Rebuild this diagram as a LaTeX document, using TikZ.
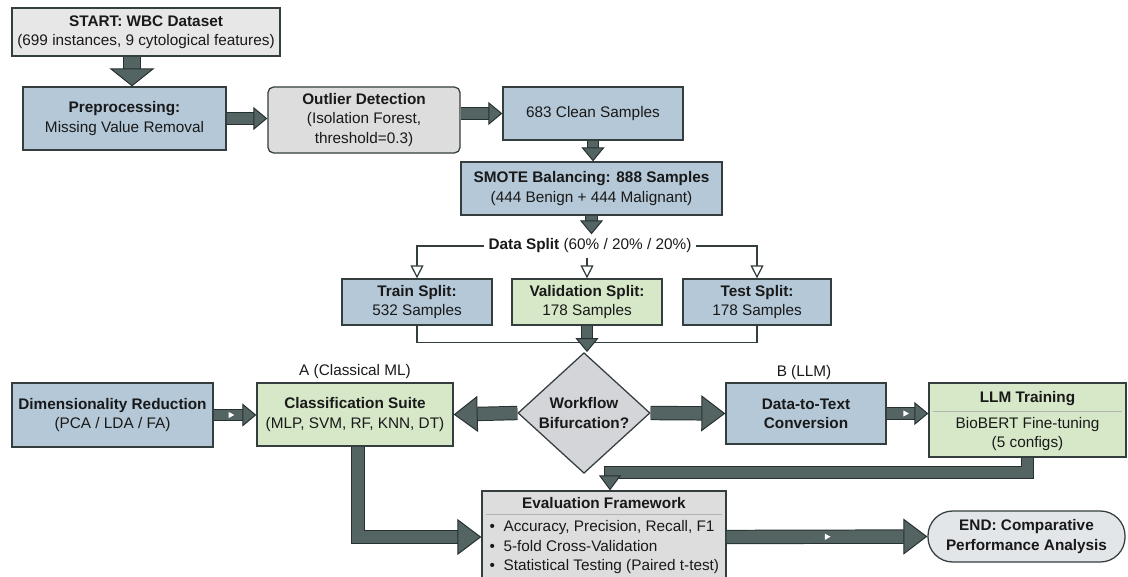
\documentclass[tikz,border=0pt]{standalone}
\usepackage{fontspec}
\setmainfont{Liberation Sans}
\usepackage{tikz}
\usetikzlibrary{arrows.meta, shapes.geometric, calc, decorations.markings}

\definecolor{boxblue}{RGB}{180,200,215}
\definecolor{boxgreen}{RGB}{214,232,200}
\definecolor{boxgray}{RGB}{221,221,221}
\definecolor{boxlight}{RGB}{231,231,231}
\definecolor{boxdiamond}{RGB}{211,213,216}
\definecolor{boxend}{RGB}{226,230,233}
\definecolor{boxedge}{RGB}{52,62,62}
\definecolor{arrowgray}{RGB}{84,100,98}
\definecolor{arrowedge}{RGB}{38,48,48}

\newcommand{\boxfont}{\fontsize{10.9}{13.6}\selectfont}

\begin{document}
\begin{tikzpicture}[x=0.025cm, y=-0.025cm,
    box/.style={draw=boxedge, line width=0.9pt, align=center, font=\boxfont,
                inner sep=2pt, text=black!90},
    bluebox/.style={box, fill=boxblue},
    greenbox/.style={box, fill=boxgreen},
    graybox/.style={box, fill=boxgray},
    decision/.style={box, diamond, fill=boxdiamond, inner sep=0pt},
    blockline/.style={draw=arrowedge, line width=0.7pt, double=arrowgray, double distance=#1},
    bigarrow/.style={blockline=3.1mm,
        -{Triangle[width=9mm, length=6mm, fill=arrowgray, color=arrowedge, line width=0.7pt]}},
    smallarrow/.style={blockline=2.6mm,
        -{Triangle[width=5.75mm, length=3.5mm, fill=arrowgray, color=arrowedge, line width=0.7pt]}},
    startarrow/.style={blockline=3.8mm,
        -{Triangle[width=11.25mm, length=4.5mm, fill=arrowgray, color=arrowedge, line width=0.7pt]}},
    splitarrow/.style={draw=boxedge, line width=0.9pt,
                       -{Triangle[open, fill=white, width=3.25mm, length=3.25mm]}},
    thinline/.style={draw=boxedge, line width=0.9pt},
    sepline/.style={draw=black!30, line width=0.6pt},
    midmark/.style={postaction={decorate, decoration={markings, mark=at position #1 with
        {\fill[white] (-1.5pt,-2.2pt) -- (2.5pt,0pt) -- (-1.5pt,2.2pt) -- cycle;}}}},
    midmark/.default=0.45,
    lbl/.style={font=\boxfont, inner sep=1pt, text=black!90}
  ]
    \useasboundingbox (0,0) rectangle (1128,577);

    % data preparation
    \node[graybox, fill=boxlight, minimum width=6.7cm, minimum height=1.2cm] (start) at (146,32)
      {\textbf{START: WBC Dataset}\\(699 instances, 9 cytological features)};
    \node[bluebox, minimum width=5.075cm, minimum height=1.575cm] (prep) at (124.5,118.5)
      {\textbf{Preprocessing:}\\Missing Value Removal};
    \node[graybox, rounded corners=4pt, minimum width=4.8cm, minimum height=1.65cm] (outlier) at (364,120)
      {\textbf{Outlier Detection}\\(Isolation Forest,\\threshold=0.3)};
    \node[bluebox, minimum width=4.5cm, minimum height=1.325cm] (clean) at (593,113.5)
      {683 Clean Samples};
    \node[bluebox, minimum width=6.525cm, minimum height=1.325cm] (smote) at (591.5,188.5)
      {\textbf{SMOTE Balancing: 888 Samples}\\(444 Benign + 444 Malignant)};

    % split
    \node[lbl, inner sep=3pt] (split) at (590,246) {\textbf{Data Split} (60\% / 20\% / 20\%)};
    \node[bluebox, minimum width=3.75cm, minimum height=1.15cm] (train) at (417,302)
      {\textbf{Train Split:}\\532 Samples};
    \node[greenbox, minimum width=3.75cm, minimum height=1.15cm] (valid) at (587,302)
      {\textbf{Validation Split:}\\178 Samples};
    \node[bluebox, minimum width=3.7cm, minimum height=1.15cm] (test) at (757,302)
      {\textbf{Test Split:}\\178 Samples};

    % two branches
    \node[bluebox, minimum width=5.025cm, minimum height=1.6cm] (dimred) at (112.5,415)
      {\textbf{Dimensionality Reduction}\\(PCA / LDA / FA)};
    \node[greenbox, minimum width=4.9cm, minimum height=1.575cm] (suite) at (355,414.5)
      {\textbf{Classification Suite}\\(MLP, SVM, RF, KNN, DT)};
    \node[lbl] (labA) at (355,372) {A (Classical ML)};
    \node[decision, minimum width=3.3cm, minimum height=2.575cm] (decide) at (584,413)
      {\textbf{Workflow}\\\textbf{Bifurcation?}};
    \node[bluebox, minimum width=4cm, minimum height=1.525cm] (datatext) at (806,413.5)
      {\textbf{Data-to-Text}\\\textbf{Conversion}};
    \node[lbl] (labB) at (804,373) {B (LLM)};
    \node[greenbox, minimum width=4.925cm, minimum height=1.85cm] (llm) at (1027.5,420) {};
    \node[lbl] (llmtitle) at (1027.5,399) {\textbf{LLM Training}};
    \draw[sepline] ($(llm.north west)+(5,29)$) -- ($(llm.north east)+(-5,29)$);
    \node[lbl, align=center] (llmbody) at (1027.5,434) {BioBERT Fine-tuning\\(5 configs)};

    % evaluation
    \node[graybox, minimum width=6.1cm, minimum height=2.3cm] (eval) at (604,537) {};
    \node[lbl] (evaltitle) at (604,503) {\textbf{Evaluation Framework}};
    \draw[sepline] ($(eval.north west)+(5,24)$) -- ($(eval.north east)+(-5,24)$);
    \node[lbl, align=left, anchor=north west, font=\fontsize{10.9}{13.9}\selectfont] (evalbody) at (488,519)
      {\textbullet\ \ Accuracy, Precision, Recall, F1\\
       \textbullet\ \ 5-fold Cross-Validation\\
       \textbullet\ \ Statistical Testing (Paired t-test)};
    \node[graybox, fill=boxend, rounded corners=0.62cm, minimum width=4.925cm, minimum height=1.275cm]
      (endnode) at (1026.5,536.5) {\textbf{END: Comparative}\\\textbf{Performance Analysis}};

    % connectors
    \draw[startarrow] ([xshift=-0.35cm]start.south) -- ([xshift=-0.35cm]start.south |- prep.north);
    \draw[smallarrow] (prep.east) -- (prep.east -| outlier.west);
    \draw[smallarrow] (outlier.east |- clean.west) -- (clean.west);
    \draw[smallarrow] (clean.south) -- (clean.south |- smote.north);
    \draw[smallarrow] (smote.south) -- (smote.south |- split.north);

    \draw[splitarrow] (split.west) -| (train.north);
    \draw[splitarrow] (split.east) -| (test.north);
    \draw[splitarrow] (split.south -| valid.north) -- (valid.north);
    \draw[thinline] (train.south) -- ++(0,17) -| (test.south);
    \draw[smallarrow] (valid.south) -- (valid.south |- decide.north);

    \draw[bigarrow] (decide.west) -- (suite.east);
    \draw[bigarrow] (decide.east) -- (datatext.west);
    \draw[smallarrow, midmark=0.4] (dimred.east) -- (dimred.east -| suite.west);
    \draw[smallarrow, midmark] (datatext.east) -- (datatext.east -| llm.west);

    \draw[bigarrow] ([xshift=0.08cm]suite.south) |- (eval.west);
    \draw[smallarrow, -{Triangle[width=5.5mm, length=3.75mm, fill=arrowgray, color=arrowedge, line width=0.7pt]}]
      (llm.south) -- ++(0,15) -| ([xshift=0.15cm]eval.north);
    \draw[bigarrow, midmark=0.5] (eval.east) -- (endnode.west);
  \end{tikzpicture}
\end{document}
